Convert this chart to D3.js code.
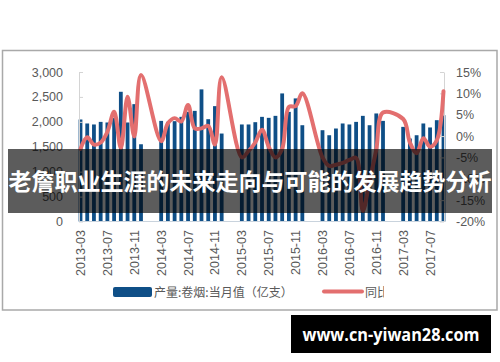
<!DOCTYPE html>
<html>
<head>
<meta charset="utf-8">
<script src="https://cdn.jsdelivr.net/npm/d3@7"></script>
<style>
  body { margin: 0; background: #fff; }
  svg { display: block; }
</style>
</head>
<body>
<script>
// months on the x axis (Jan/Feb have no data)
var months = [
  "2013-03","2013-04","2013-05","2013-06","2013-07","2013-08","2013-09","2013-10","2013-11","2013-12",
  "2014-01","2014-02","2014-03","2014-04","2014-05","2014-06","2014-07","2014-08","2014-09","2014-10","2014-11","2014-12",
  "2015-01","2015-02","2015-03","2015-04","2015-05","2015-06","2015-07","2015-08","2015-09","2015-10","2015-11","2015-12",
  "2016-01","2016-02","2016-03","2016-04","2016-05","2016-06","2016-07","2016-08","2016-09","2016-10","2016-11","2016-12",
  "2017-01","2017-02","2017-03","2017-04","2017-05","2017-06","2017-07","2017-08","2017-09"
];

// 产量:卷烟:当月值 (亿支)
var output = [
  2047, 1967, 1947, 1999, 1987, 2080, 2603, 1987, 2355, 1550,
  null, null, 2019, 1999, 2013, 2100, 2200, 2220, 2651, 2053, 2315, 1765,
  null, null, 1947, 1947, 1993, 2100, 2080, 2120, 2570, 2200, 2470, 1932,
  null, null, 1832, 1731, 1866, 1967, 1947, 1999, 2120, 1932, 2168, 2019,
  null, null, 1899, 1665, 1731, 1967, 1887, 2033, 2134
];

// 同比 (%)
var yoy = [
  -3.0, -0.3, -2.0, -1.5, 1.0, 5.7, -2.8, 9.2, -0.1, 14.3,
  null, null, -1.2, 3.0, 4.2, 3.4, 7.3, 1.8, 1.8, 2.4, -2.0, 13.8,
  null, null, -5.0, -3.5, -1.5, 1.5, -2.5, -5.0, -3.0, 6.8, 7.0, 10.0,
  null, null, -5.0, -7.0, -6.7, -6.3, -5.6, -5.1, -17.5, -10.5, -3.2, 5.5,
  null, null, 4.0, -1.5, -4.0, -0.5, -2.5, -1.0, 10.5
];

var leftTicks = [0, 500, 1000, 1500, 2000, 2500, 3000];
var rightTicks = [-20, -15, -10, -5, 0, 5, 10, 15];
var xLabels = ["2013-03","2013-07","2013-11","2014-03","2014-07","2014-11","2015-03",
               "2015-07","2015-11","2016-03","2016-07","2016-11","2017-03","2017-07"];

var title = "老詹职业生涯的未来走向与可能的发展趋势分析";
var barName = "产量:卷烟:当月值（亿支）";
var lineName = "同比";
var site = "www.cn-yiwan28.com";

var barColor = "#0f4f87";
var lineColor = "#e36f6f";
var textColor = "#595959";

var svg = d3.select("body").append("svg")
  .attr("width", 500)
  .attr("height", 362);

// outer frame
svg.append("rect")
  .attr("x", 2.5).attr("y", 50.5)
  .attr("width", 494.5).attr("height", 259.5)
  .attr("fill", "#fff")
  .attr("stroke", "#a9a9a9")
  .attr("stroke-width", 1.5);

var x = d3.scalePoint().domain(months).range([80.5, 443.5]);
var yL = d3.scaleLinear().domain([0, 3000]).range([221.5, 72]);
var yR = d3.scaleLinear().domain([-20, 15]).range([221.5, 72]);

var pts = months.map(function(m, i) { return { m: m, v: output[i], p: yoy[i] }; });

// bars
svg.append("g").selectAll("rect")
  .data(pts.filter(function(d) { return d.v != null; }))
  .join("rect")
  .attr("x", function(d) { return x(d.m) - 1.9; })
  .attr("y", function(d) { return yL(d.v); })
  .attr("width", 3.8)
  .attr("height", function(d) { return yL(0) - yL(d.v); })
  .attr("fill", barColor);

// axes
var axL = svg.append("g")
  .attr("transform", "translate(79,0)")
  .call(d3.axisLeft(yL).tickValues(leftTicks).tickFormat(d3.format(","))
        .tickSizeInner(-4).tickSizeOuter(0).tickPadding(16));
var axR = svg.append("g")
  .attr("transform", "translate(444,0)")
  .call(d3.axisRight(yR).tickValues(rightTicks).tickFormat(function(d) { return d + "%"; })
        .tickSizeInner(-4).tickSizeOuter(0).tickPadding(12));
[axL, axR].forEach(function(a) {
  a.select(".domain").attr("stroke", "#d4d4d4");
  a.selectAll(".tick line").attr("stroke", "#d4d4d4");
  a.selectAll("text")
    .attr("fill", textColor)
    .style("font-family", "'Liberation Sans', Arial, sans-serif")
    .style("font-size", "12.5px");
});

// baseline
svg.append("line")
  .attr("x1", 79).attr("x2", 444)
  .attr("y1", yL(0)).attr("y2", yL(0))
  .attr("stroke", "#c9d3dd");

// x labels
svg.append("g").selectAll("text")
  .data(xLabels)
  .join("text")
  .attr("transform", function(d) { return "translate(" + (x(d) + 4.5) + ",230) rotate(-90)"; })
  .attr("text-anchor", "end")
  .attr("fill", textColor)
  .style("font-family", "'Liberation Sans', Arial, sans-serif")
  .style("font-size", "12.5px")
  .text(function(d) { return d; });

// yoy line
var line = d3.line()
  .x(function(d) { return x(d.m); })
  .y(function(d) { return yR(d.p); })
  .curve(d3.curveCatmullRom.alpha(0.5));

svg.append("path")
  .datum(pts.filter(function(d) { return d.p != null; }))
  .attr("d", line)
  .attr("fill", "none")
  .attr("stroke", lineColor)
  .attr("stroke-width", 4)
  .attr("stroke-linejoin", "round")
  .attr("stroke-linecap", "round");

// legend
svg.append("rect")
  .attr("x", 113).attr("y", 287)
  .attr("width", 39).attr("height", 10)
  .attr("rx", 2)
  .attr("fill", barColor);
svg.append("text")
  .attr("x", 154).attr("y", 296.5)
  .attr("fill", textColor)
  .style("font-family", "'Noto Sans CJK SC', sans-serif")
  .style("font-size", "12px")
  .text(barName);
svg.append("line")
  .attr("x1", 324).attr("x2", 362)
  .attr("y1", 291.5).attr("y2", 291.5)
  .attr("stroke", lineColor)
  .attr("stroke-width", 4)
  .attr("stroke-linecap", "round");
// the reference cuts the second legend label off part-way
svg.append("clipPath").attr("id", "lgclip")
  .append("rect").attr("x", 360).attr("y", 280).attr("width", 24).attr("height", 25);
svg.append("text")
  .attr("x", 365).attr("y", 296.5)
  .attr("clip-path", "url(#lgclip)")
  .attr("fill", textColor)
  .style("font-family", "'Noto Sans CJK SC', sans-serif")
  .style("font-size", "12px")
  .text(lineName);

// title banner
svg.append("rect")
  .attr("x", 8).attr("y", 149)
  .attr("width", 484).attr("height", 64)
  .attr("fill", "rgba(0,0,0,0.64)");
svg.append("text")
  .attr("x", 250).attr("y", 189.5)
  .attr("text-anchor", "middle")
  .attr("fill", "#fff")
  .style("font-family", "'Noto Sans CJK SC', sans-serif")
  .style("font-weight", 700)
  .style("font-size", "23px")
  .text(title);

// watermark
svg.append("rect")
  .attr("x", 291).attr("y", 315)
  .attr("width", 200).attr("height", 38)
  .attr("fill", "#000");
svg.append("text")
  .attr("x", 391).attr("y", 340.5)
  .attr("text-anchor", "middle")
  .attr("fill", "#fff")
  .attr("textLength", 177)
  .attr("lengthAdjust", "spacingAndGlyphs")
  .style("font-family", "'Open Sans', sans-serif")
  .style("font-weight", 700)
  .style("font-size", "18px")
  .text(site);
</script>
</body>
</html>
